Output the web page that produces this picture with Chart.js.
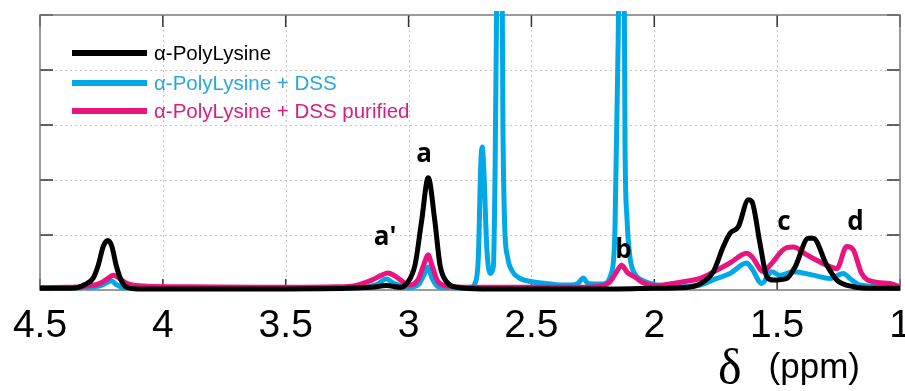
<!DOCTYPE html>
<html>
<head>
<meta charset="utf-8">
<script src="https://cdn.jsdelivr.net/npm/chart.js@4.4.1/dist/chart.umd.min.js"></script>
<style>
  html, body { margin: 0; padding: 0; background: #fff; }
</style>
</head>
<body>
<canvas id="grafico" width="905" height="391"></canvas>
<script>

const xTicks = [4.5, 4, 3.5, 3, 2.5, 2, 1.5, 1]
const yTicks = [0, 1, 2, 3, 4, 5]

const nomes = ['α-PolyLysine', 'α-PolyLysine + DSS', 'α-PolyLysine + DSS purified']

const ppmPreto = [4.50, 4.40, 4.35, 4.317, 4.283, 4.263, 4.242, 4.224, 4.208, 4.19,
  4.17, 4.147, 4.10, 3.80, 3.50, 3.25, 3.15, 3.09, 3.03, 3.007,
  2.974, 2.947, 2.920, 2.893, 2.872, 2.845, 2.804, 2.70, 2.50, 2.30,
  2.15, 2.00, 1.895, 1.814, 1.760, 1.719, 1.692, 1.658, 1.617, 1.603,
  1.570, 1.542, 1.516, 1.461, 1.427, 1.373, 1.353, 1.298, 1.257, 1.190,
  1.10, 1.00]
const intPreto = [0.03, 0.03, 0.04, 0.10, 0.22, 0.45, 0.80, 0.90, 0.80, 0.45,
  0.18, 0.05, 0.02, 0.02, 0.02, 0.03, 0.05, 0.08, 0.05, 0.12,
  0.45, 1.25, 2.04, 1.25, 0.45, 0.15, 0.05, 0.02, 0.02, 0.02,
  0.02, 0.03, 0.04, 0.11, 0.33, 0.79, 1.03, 1.15, 1.64, 1.61,
  0.85, 0.24, 0.18, 0.21, 0.42, 0.94, 0.94, 0.45, 0.18, 0.06,
  0.03, 0.03]

const ppmAzul = [4.50, 4.35, 4.26, 4.225, 4.21, 4.19, 4.16, 4.00, 3.50, 3.20,
  3.13, 3.09, 3.06, 3.00, 2.96, 2.935, 2.921, 2.905, 2.88, 2.80,
  2.745, 2.730, 2.716, 2.706, 2.700, 2.692, 2.682, 2.668, 2.655, 2.648,
  2.640, 2.632, 2.624, 2.616, 2.609, 2.597, 2.579, 2.55, 2.50, 2.44,
  2.38, 2.34, 2.31, 2.289, 2.27, 2.21, 2.175, 2.160, 2.147, 2.137,
  2.127, 2.119, 2.111, 2.099, 2.08, 2.05, 2.00, 1.936, 1.895, 1.814,
  1.746, 1.692, 1.624, 1.603, 1.563, 1.522, 1.49, 1.434, 1.353, 1.285,
  1.231, 1.204, 1.163, 1.081, 1.00]
const intAzul = [0.04, 0.04, 0.07, 0.14, 0.17, 0.10, 0.04, 0.03, 0.03, 0.04,
  0.10, 0.20, 0.12, 0.05, 0.10, 0.30, 0.42, 0.22, 0.06, 0.04,
  0.05, 0.12, 0.60, 2.30, 2.60, 2.00, 0.79, 0.30, 0.42, 2.13,
  6.0, 9.0, 9.0, 3.0, 1.2, 0.6, 0.35, 0.22, 0.15, 0.12,
  0.09, 0.09, 0.12, 0.22, 0.12, 0.11, 0.30, 1.10, 4.5, 9.0,
  9.0, 2.6, 1.3, 0.6, 0.3, 0.18, 0.10, 0.07, 0.06, 0.09,
  0.21, 0.30, 0.49, 0.39, 0.12, 0.33, 0.27, 0.33, 0.27, 0.21,
  0.30, 0.21, 0.09, 0.06, 0.05]

const ppmRosa = [4.50, 4.40, 4.337, 4.256, 4.22, 4.202, 4.18, 4.147, 4.066, 3.90,
  3.60, 3.30, 3.22, 3.15, 3.11, 3.084, 3.05, 3.02, 2.994, 2.96,
  2.935, 2.921, 2.905, 2.88, 2.84, 2.75, 2.50, 2.30, 2.22, 2.18,
  2.155, 2.133, 2.11, 2.08, 2.05, 2.00, 1.895, 1.814, 1.746, 1.692,
  1.624, 1.603, 1.556, 1.529, 1.461, 1.434, 1.380, 1.298, 1.257, 1.217,
  1.190, 1.156, 1.109, 1.041, 1.00]
const intRosa = [0.04, 0.05, 0.06, 0.12, 0.22, 0.27, 0.22, 0.12, 0.07, 0.06,
  0.05, 0.06, 0.08, 0.18, 0.27, 0.31, 0.24, 0.14, 0.09, 0.20,
  0.50, 0.64, 0.45, 0.15, 0.07, 0.05, 0.05, 0.05, 0.07, 0.15,
  0.32, 0.45, 0.32, 0.24, 0.14, 0.08, 0.14, 0.21, 0.36, 0.49,
  0.67, 0.61, 0.33, 0.45, 0.77, 0.78, 0.64, 0.45, 0.39, 0.79,
  0.73, 0.30, 0.15, 0.12, 0.06]

// rótulos dos picos (texto, δ, altura da linha de base do texto)
const picosTexto = ["a'", 'a', 'b', 'c', 'd']
const picosPpm = [3.096, 2.937, 2.125, 1.472, 1.181]
const picosInt = [0.82, 2.33, 0.58, 1.09, 1.09]

// ── Estilo ──────────────────────────────────────────────────────────────────

const CORES = ['#000000', '#00a9e6', '#e8157f']
const CORES_TEXTO = ['#000000', '#2aa8dc', '#dc1d7e']
const FONTE = "'Liberation Sans', Arial, sans-serif"

const pares = (xs, ys) => xs.map((x, i) => ({ x, y: ys[i] }))

// ── Plugin: grade pontilhada, moldura, ticks internos, legenda e rótulos ────

const moldura = {
  id: 'moldura',
  beforeDatasetsDraw(chart) {
    const { ctx, chartArea: a, scales: { x, y } } = chart
    ctx.save()

    ctx.strokeStyle = '#c6c6c6'
    ctx.lineWidth = 1
    ctx.setLineDash([2, 3])
    ctx.beginPath()
    xTicks.forEach((v) => {
      const px = Math.round(x.getPixelForValue(v)) + 0.5
      if (px > a.left + 2 && px < a.right - 2) {
        ctx.moveTo(px, a.top)
        ctx.lineTo(px, a.bottom)
      }
    })
    yTicks.forEach((v) => {
      const py = Math.round(y.getPixelForValue(v)) + 0.5
      if (py > a.top + 2 && py < a.bottom - 2) {
        ctx.moveTo(a.left, py)
        ctx.lineTo(a.right, py)
      }
    })
    ctx.stroke()
    ctx.setLineDash([])

    // ticks para dentro nos quatro lados
    ctx.strokeStyle = '#333'
    ctx.lineWidth = 1.5
    ctx.beginPath()
    xTicks.forEach((v) => {
      const px = x.getPixelForValue(v)
      ctx.moveTo(px, a.bottom); ctx.lineTo(px, a.bottom - 11)
      ctx.moveTo(px, a.top); ctx.lineTo(px, a.top + 12)
    })
    yTicks.forEach((v) => {
      const py = y.getPixelForValue(v)
      ctx.moveTo(a.left, py); ctx.lineTo(a.left + 13, py)
      ctx.moveTo(a.right, py); ctx.lineTo(a.right - 13, py)
    })
    ctx.stroke()

    ctx.strokeStyle = '#7a7a7a'
    ctx.lineWidth = 1.5
    ctx.strokeRect(a.left, a.top, a.right - a.left, a.bottom - a.top)
    ctx.restore()
  },
  afterDatasetsDraw(chart) {
    const { ctx, chartArea: a, scales: { x, y } } = chart
    ctx.save()

    // legenda dentro da área do gráfico
    const linhasY = [38, 68, 96]
    nomes.forEach((nome, i) => {
      const ly = a.top + linhasY[i]
      ctx.strokeStyle = CORES[i]
      ctx.lineWidth = 6
      ctx.beginPath()
      ctx.moveTo(a.left + 32, ly)
      ctx.lineTo(a.left + 107, ly)
      ctx.stroke()
      ctx.fillStyle = CORES_TEXTO[i]
      ctx.font = `20.5px ${FONTE}`
      ctx.textAlign = 'left'
      ctx.textBaseline = 'middle'
      ctx.fillText(nome, a.left + 114, ly + 1)
    })

    // rótulos dos picos
    ctx.fillStyle = '#000'
    ctx.font = `bold 26px 'Open Sans', ${FONTE}`
    ctx.textAlign = 'center'
    ctx.textBaseline = 'alphabetic'
    picosTexto.forEach((t, i) => {
      ctx.fillText(t, x.getPixelForValue(picosPpm[i]), y.getPixelForValue(picosInt[i]))
    })

    // título do eixo x: δ (ppm)
    const fim = a.right - 40
    ctx.textAlign = 'right'
    ctx.font = `35px ${FONTE}`
    ctx.fillText('(ppm)', fim, a.bottom + 88)
    ctx.textAlign = 'left'
    ctx.font = `50px 'Liberation Serif', serif`
    ctx.fillText('δ', fim - 142, a.bottom + 94)
    ctx.restore()
  },
}

// ── Gráfico ─────────────────────────────────────────────────────────────────

const serie = (i, data) => ({
  label: nomes[i],
  data,
  borderColor: CORES[i],
  borderWidth: 5,
  pointRadius: 0,
  cubicInterpolationMode: 'monotone',
  borderJoinStyle: 'round',
  clip: { left: 0, top: 4, right: 0, bottom: 4 },
})

new Chart(document.getElementById('grafico'), {
  type: 'line',
  data: {
    // o primeiro dataset é desenhado por cima
    datasets: [
      serie(0, pares(ppmPreto, intPreto)),
      serie(2, pares(ppmRosa, intRosa)),
      serie(1, pares(ppmAzul, intAzul)),
    ],
  },
  options: {
    responsive: false,
    animation: false,
    layout: { padding: { top: 15, right: 5, left: 0, bottom: 0 } },
    plugins: {
      legend: { display: false },
      tooltip: { enabled: false },
    },
    scales: {
      x: {
        type: 'linear',
        reverse: true,
        min: 1,
        max: 4.5,
        afterBuildTicks: (s) => { s.ticks = xTicks.map((v) => ({ value: v })) },
        afterFit: (s) => {
          s.height = 101
          s.paddingLeft = 0
          s.paddingRight = 0
        },
        ticks: {
          autoSkip: false,
          maxRotation: 0,
          padding: 13,
          color: '#000',
          font: { family: FONTE, size: 39 },
          callback: (v) => String(v),
        },
        grid: { display: false, drawTicks: false },
        border: { display: false },
      },
      y: {
        min: 0,
        max: 5,
        afterBuildTicks: (s) => { s.ticks = yTicks.map((v) => ({ value: v })) },
        afterFit: (s) => { s.width = 40 },
        ticks: { display: false },
        grid: { display: false, drawTicks: false },
        border: { display: false },
      },
    },
  },
  plugins: [moldura],
})
</script>
</body>
</html>
